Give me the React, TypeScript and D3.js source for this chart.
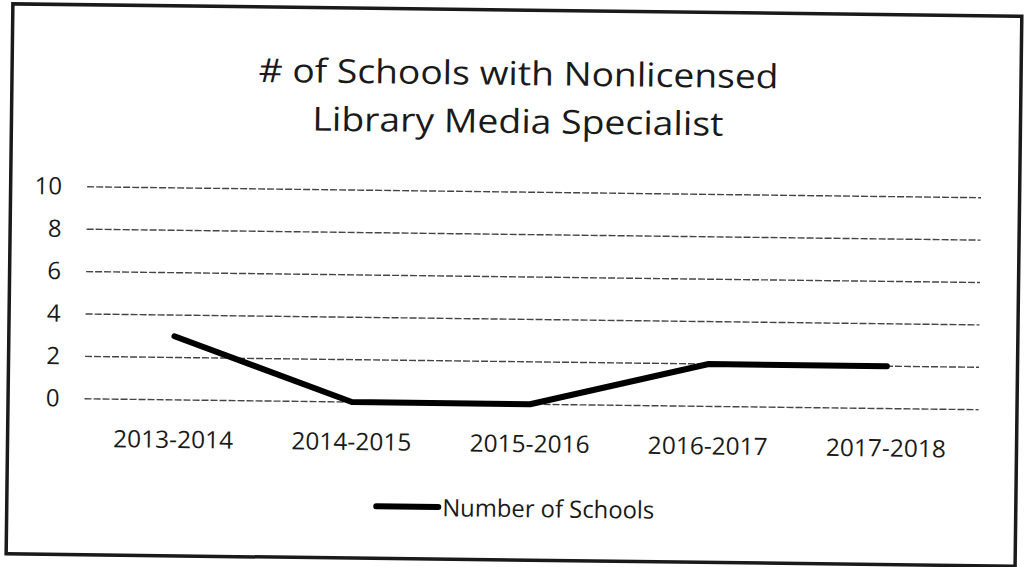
import React from "react";
import * as d3 from "d3";

const categories = ["2013-2014", "2014-2015", "2015-2016", "2016-2017", "2017-2018"];
const schools = [3, 0, 0, 2, 2];
const yTicks = [0, 2, 4, 6, 8, 10];
const titleLines = ["# of Schools with Nonlicensed", "Library Media Specialist"];
const seriesName = "Number of Schools";

const W = 1025;
const H = 567;
const font = "'Open Sans', 'Noto Sans', sans-serif";

export default function App() {
  // the scan is slightly tilted, so the whole drawing gets a small turn
  const x = d3.scaleBand<string>().domain(categories).range([86, 977]);
  const y = d3.scaleLinear().domain([0, 10]).range([404, 192]);

  const path = d3
    .line<number>()
    .x((d, i) => (x(categories[i]) as number) + x.bandwidth() / 2)
    .y((d) => y(d))(schools);

  return (
    <svg
      width={W}
      height={H}
      style={{ position: "absolute", left: 0, top: 0, background: "#fff" }}
    >
      <g transform={`rotate(0.7 ${W / 2} ${H / 2})`}>
        <rect x={9.5} y={10} width={1009} height={550} fill="none" stroke="#1a1a1a" strokeWidth={3.5} />

        {titleLines.map((t, i) => (
          <text
            key={t}
            x={516}
            y={85 + i * 48}
            textAnchor="middle"
            fontFamily={font}
            fontSize={33}
            fill="#1a1a1a"
            textLength={i === 0 ? 520 : 411}
            lengthAdjust="spacingAndGlyphs"
          >
            {t}
          </text>
        ))}

        {yTicks.map((t) => (
          <g key={t}>
            <line
              x1={x.range()[0]}
              x2={x.range()[1] + 3}
              y1={y(t)}
              y2={y(t)}
              stroke="#444"
              strokeWidth={1.4}
              strokeDasharray="7,2"
            />
            <text
              x={61}
              y={y(t) + 8}
              textAnchor="end"
              fontFamily={font}
              fontSize={24}
              fill="#1a1a1a"
            >
              {t}
            </text>
          </g>
        ))}

        {categories.map((c) => (
          <text
            key={c}
            x={(x(c) as number) + x.bandwidth() / 2}
            y={452}
            textAnchor="middle"
            fontFamily={font}
            fontSize={24}
            fill="#1a1a1a"
            textLength={120}
            lengthAdjust="spacingAndGlyphs"
          >
            {c}
          </text>
        ))}

        <path d={path ?? ""} fill="none" stroke="#000" strokeWidth={6} strokeLinejoin="round" strokeLinecap="round" />

        <line x1={379} x2={441} y1={508} y2={508} stroke="#000" strokeWidth={6} strokeLinecap="round" />
        <text
          x={445}
          y={517}
          fontFamily={font}
          fontSize={24}
          fill="#1a1a1a"
          textLength={212}
          lengthAdjust="spacingAndGlyphs"
        >
          {seriesName}
        </text>
      </g>
    </svg>
  );
}
